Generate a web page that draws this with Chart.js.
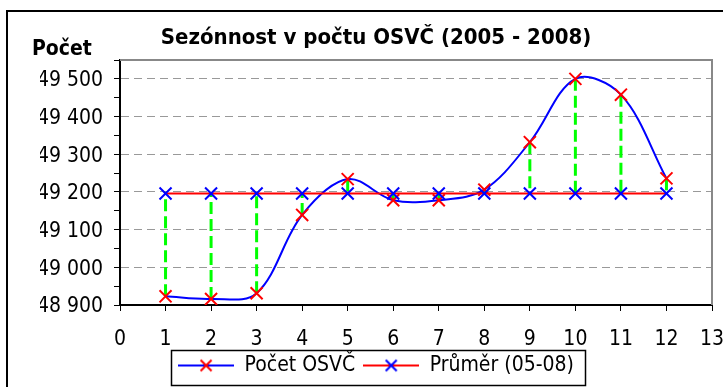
<!DOCTYPE html>
<html>
<head>
<meta charset="utf-8">
<title>Sezónnost v počtu OSVČ</title>
<script src="https://cdn.jsdelivr.net/npm/chart.js@4.4.1/dist/chart.umd.min.js"></script>
<style>
  html, body { margin: 0; padding: 0; background: #fff; }
  #chart { display: block; }
</style>
</head>
<body>
<canvas id="chart" width="723" height="387"></canvas>
<script>
// month numbers and monthly counts
const months = [1, 2, 3, 4, 5, 6, 7, 8, 9, 10, 11, 12];
const pocetOsvc = [48923, 48916, 48931, 49139, 49234, 49178, 49178, 49206, 49332, 49500, 49458, 49236];
const prumer = [49196, 49196, 49196, 49196, 49196, 49196, 49196, 49196, 49196, 49196, 49196, 49196];

const seriesNames = ['Počet OSVČ', 'Průměr (05-08)'];
const chartTitle = 'Sezónnost v počtu OSVČ (2005 - 2008)';
const yCaption = 'Počet';

const xTicks = [0, 1, 2, 3, 4, 5, 6, 7, 8, 9, 10, 11, 12, 13];
const yTicks = [48900, 49000, 49100, 49200, 49300, 49400, 49500];
const yTop = 49550;

const FONT = '"DejaVu Sans Condensed", "Liberation Sans", sans-serif';

function fmtThousands(v) {
    return String(v).replace(/\B(?=(\d{3})+(?!\d))/g, ' ');
}

// small line + cross swatch for the legend
function legendIcon(lineColor, markColor) {
    const c = document.createElement('canvas');
    c.width = 56;
    c.height = 16;
    const g = c.getContext('2d');
    g.lineWidth = 2;
    g.strokeStyle = lineColor;
    g.beginPath();
    g.moveTo(0, 8);
    g.lineTo(56, 8);
    g.stroke();
    g.strokeStyle = markColor;
    g.beginPath();
    g.moveTo(22.5, 2.5); g.lineTo(33.5, 13.5);
    g.moveTo(33.5, 2.5); g.lineTo(22.5, 13.5);
    g.stroke();
    return c;
}

const icons = [legendIcon('#0000ff', '#ff0000'), legendIcon('#ff0000', '#0000ff')];

// dashed green connectors between each month and the average
const gapSets = months.map((m, i) => ({
    label: 'gap' + m,
    data: [{ x: m, y: pocetOsvc[i] }, { x: m, y: prumer[i] }],
    showLine: true,
    borderColor: '#00ff00',
    borderWidth: 3,
    borderDash: [12, 5],
    pointRadius: 0,
    order: 3
}));

const decorations = {
    id: 'decorations',
    beforeDatasetsDraw(chart) {
        const { ctx, chartArea: a } = chart;
        ctx.save();
        ctx.strokeStyle = '#888';
        ctx.lineWidth = 2;
        ctx.beginPath();
        ctx.moveTo(a.left, a.top);
        ctx.lineTo(a.right, a.top);
        ctx.lineTo(a.right, a.bottom);
        ctx.stroke();
        ctx.restore();
    },
    afterDraw(chart) {
        const ctx = chart.ctx;
        ctx.save();

        // outer frame
        ctx.strokeStyle = '#000';
        ctx.lineWidth = 2;
        ctx.beginPath();
        ctx.moveTo(7, 387);
        ctx.lineTo(7, 11);
        ctx.lineTo(723, 11);
        ctx.stroke();

        // y caption
        ctx.fillStyle = '#000';
        ctx.font = 'bold 21px ' + FONT;
        ctx.textBaseline = 'alphabetic';
        ctx.textAlign = 'left';
        ctx.fillText(yCaption, 32, 55);

        // legend box
        const lg = chart.legend;
        const boxes = lg.legendHitBoxes;
        if (boxes.length) {
            const left = Math.min(...boxes.map(b => b.left)) - 7;
            const right = Math.max(...boxes.map(b => b.left + b.width)) + 11;
            const top = lg.top + 3.5;
            const bottom = lg.bottom - 0.5;
            ctx.lineWidth = 1.5;
            ctx.strokeRect(Math.round(left) + 0.5, top, Math.round(right - left), bottom - top);
        }
        ctx.restore();
    }
};

const ctx = document.getElementById('chart').getContext('2d');
new Chart(ctx, {
    type: 'scatter',
    data: {
        datasets: [
            {
                label: seriesNames[0],
                data: months.map((m, i) => ({ x: m, y: pocetOsvc[i] })),
                showLine: true,
                borderColor: '#0000ff',
                borderWidth: 2,
                tension: 0.35,
                pointStyle: 'crossRot',
                pointRadius: 8.5,
                pointBorderColor: '#ff0000',
                pointBorderWidth: 2,
                order: 2
            },
            {
                label: seriesNames[1],
                data: months.map((m, i) => ({ x: m, y: prumer[i] })),
                showLine: true,
                borderColor: '#ff0000',
                borderWidth: 2,
                tension: 0,
                pointStyle: 'crossRot',
                pointRadius: 8.5,
                pointBorderColor: '#0000ff',
                pointBorderWidth: 2,
                order: 1
            },
            ...gapSets
        ]
    },
    options: {
        responsive: false,
        animation: false,
        devicePixelRatio: 1,
        events: [],
        layout: { padding: { left: 40, right: 11, top: 0, bottom: 1 } },
        plugins: {
            title: {
                display: true,
                text: chartTitle,
                color: '#000',
                font: { family: FONT, size: 22, weight: 'bold', lineHeight: 1.2 },
                padding: { top: 25, bottom: 8.6 }
            },
            legend: {
                position: 'bottom',
                labels: {
                    usePointStyle: true,
                    pointStyleWidth: 56,
                    padding: 8,
                    color: '#000',
                    font: { family: FONT, size: 21 },
                    generateLabels(chart) {
                        const items = Chart.defaults.plugins.legend.labels.generateLabels(chart);
                        return items
                            .filter(it => it.datasetIndex < 2)
                            .sort((a, b) => a.datasetIndex - b.datasetIndex)
                            .map(it => {
                                it.pointStyle = icons[it.datasetIndex];
                                return it;
                            });
                    }
                }
            },
            tooltip: { enabled: false }
        },
        scales: {
            x: {
                type: 'linear',
                min: xTicks[0],
                max: xTicks[xTicks.length - 1],
                ticks: {
                    stepSize: 1,
                    autoSkip: false,
                    maxRotation: 0,
                    color: '#000',
                    font: { family: FONT, size: 21 },
                    padding: 16
                },
                grid: { drawOnChartArea: false, tickColor: '#000', tickLength: 6 },
                border: { color: '#000', width: 2 },
                afterFit(scale) {
                    scale.height = 42;
                    scale.paddingLeft = 0;
                    scale.paddingRight = 0;
                }
            },
            y: {
                type: 'linear',
                min: yTicks[0],
                max: yTop,
                ticks: {
                    stepSize: 50,
                    autoSkip: false,
                    color: '#000',
                    font: { family: FONT, size: 21 },
                    padding: 11,
                    labelOffset: 2,
                    callback: v => (yTicks.includes(v) ? fmtThousands(v) : '')
                },
                grid: {
                    color: c => (c.tick && yTicks.includes(c.tick.value) && c.tick.value !== yTicks[0] ? '#999' : 'rgba(0,0,0,0)'),
                    tickColor: '#000',
                    tickLength: 6
                },
                border: { color: '#000', width: 2, dash: [8, 5] },
                afterFit(scale) {
                    scale.width = 80;
                    scale.paddingTop = 0;
                    scale.paddingBottom = 0;
                }
            }
        }
    },
    plugins: [decorations]
});
</script>
</body>
</html>
